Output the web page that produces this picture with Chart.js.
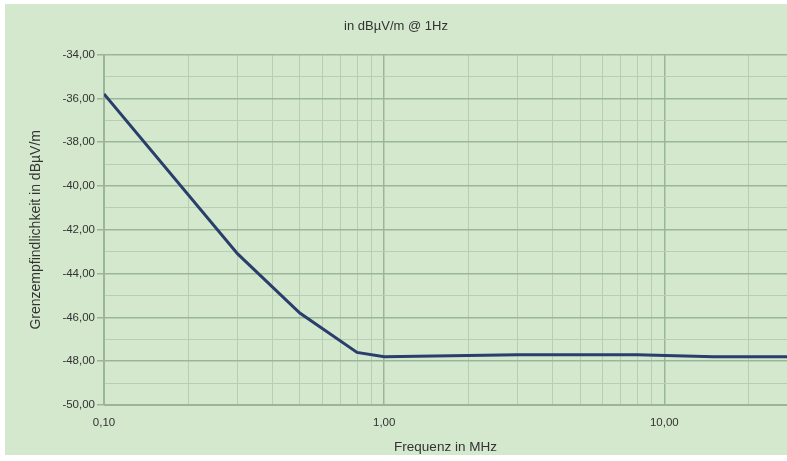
<!DOCTYPE html>
<html>
<head>
<meta charset="utf-8">
<script src="https://cdn.jsdelivr.net/npm/chart.js@4/dist/chart.umd.min.js"></script>
<style>
  html, body { margin: 0; padding: 0; background: #ffffff; overflow: hidden; }
  #wrap { position: absolute; left: 5px; top: 4px; width: 782px; height: 451px; background: #d3e8cc; }
  canvas { display: block; }
</style>
</head>
<body>
<div id="wrap"><canvas id="c" width="782" height="451"></canvas></div>
<script>
// Limit sensitivity over frequency
const freqMHz     = [0.1, 0.3, 0.5, 0.8, 1, 3, 8, 15, 30];
const sensitivity = [-35.8, -43.1, -45.8, -47.6, -47.8, -47.7, -47.7, -47.8, -47.8];

// Axis tick positions
const xDecades  = [0.1, 1, 10];
const xTicks    = [0.1, 0.2, 0.3, 0.4, 0.5, 0.6, 0.7, 0.8, 0.9,
                   1, 2, 3, 4, 5, 6, 7, 8, 9, 10, 20];
const yMajor    = [-50, -48, -46, -44, -42, -40, -38, -36, -34];

const MAJOR = '#9bb597';
const MINOR = '#b7ceb2';
const TEXT  = '#333333';
const FONT  = 'Liberation Sans, Arial, sans-serif';

const fmt = v => v.toFixed(2).replace('.', ',');
const isDecade = v => xDecades.some(d => Math.abs(d - v) < 1e-9);

new Chart(document.getElementById('c'), {
  type: 'line',
  data: {
    datasets: [{
      data: freqMHz.map((f, i) => ({ x: f, y: sensitivity[i] })),
      borderColor: '#2a3e6c',
      borderWidth: 3,
      pointRadius: 0,
      tension: 0,
      fill: false
    }]
  },
  options: {
    responsive: false,
    animation: false,
    devicePixelRatio: 1,
    layout: { padding: 0 },
    plugins: {
      legend: { display: false },
      tooltip: { enabled: false },
      title: {
        display: true,
        text: 'in dBµV/m @ 1Hz',
        color: TEXT,
        font: { family: FONT, size: 13, weight: 'normal', lineHeight: 1.2 },
        padding: { top: 15, bottom: 20 }
      }
    },
    scales: {
      x: {
        type: 'logarithmic',
        min: 0.1,
        max: 27.4,
        afterBuildTicks: s => { s.ticks = xTicks.map(v => ({ value: v })); },
        afterFit: s => { s.height = 50; },
        ticks: {
          autoSkip: false,
          maxRotation: 0,
          padding: 11,
          color: TEXT,
          font: { family: FONT, size: 11.5 },
          callback: v => isDecade(v) ? fmt(v) : ''
        },
        grid: {
          drawTicks: false,
          color: c => isDecade(c.tick.value) ? MAJOR : MINOR,
          lineWidth: c => isDecade(c.tick.value) ? 1.5 : 1
        },
        border: { color: MAJOR, width: 1 },
        title: {
          display: true,
          text: 'Frequenz in MHz',
          color: TEXT,
          font: { family: FONT, size: 13.5 },
          padding: { top: 1, bottom: 0 }
        }
      },
      y: {
        min: -50,
        max: -34,
        afterBuildTicks: s => {
          const t = [];
          for (let v = -50; v <= -34; v++) t.push({ value: v });
          s.ticks = t;
        },
        afterFit: s => { s.width = 99; },
        ticks: {
          autoSkip: false,
          padding: 2,
          color: TEXT,
          font: { family: FONT, size: 11.5 },
          callback: v => yMajor.includes(v) ? fmt(v) : ''
        },
        grid: {
          tickLength: 7,
          color: c => yMajor.includes(c.tick.value) ? MAJOR : MINOR,
          tickColor: c => yMajor.includes(c.tick.value) ? MAJOR : 'rgba(0,0,0,0)',
          lineWidth: c => yMajor.includes(c.tick.value) ? 1.5 : 1
        },
        border: { color: MAJOR, width: 1 },
        title: {
          display: true,
          text: 'Grenzempfindlichkeit in dBµV/m',
          color: TEXT,
          font: { family: FONT, size: 14 },
          padding: { top: 23, bottom: 0 }
        }
      }
    }
  }
});
</script>
</body>
</html>
